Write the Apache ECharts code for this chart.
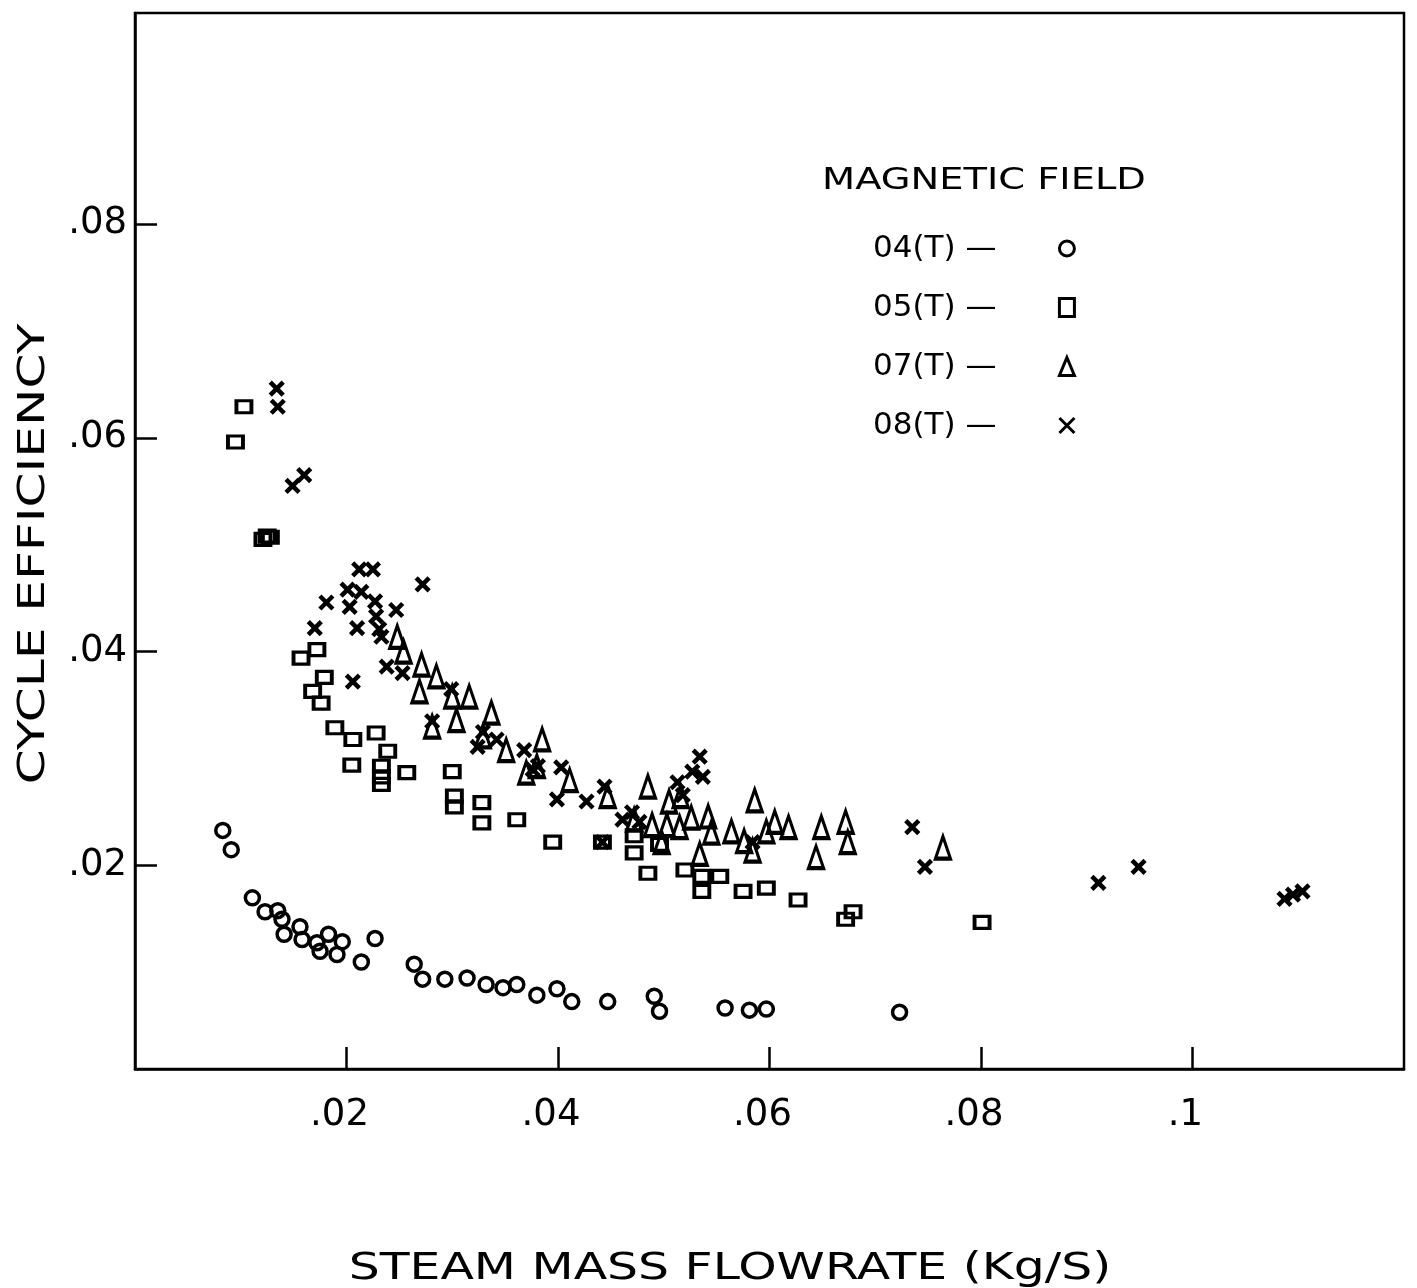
<!DOCTYPE html>
<html><head><meta charset="utf-8">
<script src="https://cdn.jsdelivr.net/npm/echarts@6/dist/echarts.min.js"></script>
<style>html,body{margin:0;padding:0;background:#fff}#c{width:1417px;height:1288px}</style>
</head><body><div id="c"></div>
<script>
const seriesNames = ['04(T)', '05(T)', '07(T)', '08(T)'];
const xTickValues = [0.02, 0.04, 0.06, 0.08, 0.1];
const xTickLabels = ['.02', '.04', '.06', '.08', '.1'];
const yTickValues = [0.02, 0.04, 0.06, 0.08];
const yTickLabels = ['.02', '.04', '.06', '.08'];

// 0.4 T  (circles)
const field04 = [
  [0.0083,0.0233],[0.0091,0.0215],[0.0111,0.0170],[0.0123,0.0157],[0.0135,0.0158],
  [0.0139,0.0150],[0.0141,0.0136],[0.0156,0.0143],[0.0158,0.0131],[0.0172,0.0128],
  [0.0175,0.0120],[0.0183,0.0136],[0.0191,0.0117],[0.0196,0.0129],[0.0214,0.0110],
  [0.0227,0.0132],[0.0264,0.0108],[0.0272,0.0094],[0.0293,0.0094],[0.0314,0.0095],
  [0.0332,0.0089],[0.0348,0.0086],[0.0361,0.0089],[0.0380,0.0079],[0.0399,0.0085],
  [0.0413,0.0073],[0.0447,0.0073],[0.0491,0.0078],[0.0496,0.0064],[0.0558,0.0067],
  [0.0581,0.0065],[0.0597,0.0066],[0.0723,0.0063]
];
// 0.5 T  (squares)
const field05 = [
  [0.0103,0.0629],[0.0095,0.0596],[0.0121,0.0505],[0.0125,0.0508],[0.0128,0.0507],
  [0.0172,0.0402],[0.0157,0.0394],[0.0179,0.0376],[0.0168,0.0363],[0.0176,0.0352],
  [0.0189,0.0329],[0.0206,0.0318],[0.0228,0.0324],[0.0239,0.0307],[0.0205,0.0294],
  [0.0233,0.0293],[0.0233,0.0283],[0.0233,0.0276],[0.0257,0.0287],[0.0300,0.0288],
  [0.0302,0.0265],[0.0302,0.0255],[0.0328,0.0259],[0.0328,0.0240],[0.0361,0.0243],
  [0.0395,0.0222],[0.0442,0.0222],[0.0472,0.0228],[0.0472,0.0212],[0.0485,0.0193],
  [0.0496,0.0220],[0.0520,0.0196],[0.0536,0.0190],[0.0536,0.0176],[0.0553,0.0190],
  [0.0575,0.0176],[0.0597,0.0179],[0.0627,0.0168],[0.0672,0.0150],[0.0679,0.0157],
  [0.0801,0.0147]
];
// 0.7 T  (triangles)
const field07 = [
  [0.0248,0.0414],[0.0254,0.0400],[0.0271,0.0388],[0.0269,0.0363],[0.0285,0.0377],
  [0.0300,0.0358],[0.0316,0.0358],[0.0281,0.0330],[0.0304,0.0336],[0.0337,0.0343],
  [0.0329,0.0321],[0.0351,0.0308],[0.0385,0.0318],[0.0370,0.0287],[0.0380,0.0293],
  [0.0411,0.0280],[0.0447,0.0265],[0.0485,0.0274],[0.0505,0.0260],[0.0516,0.0265],
  [0.0526,0.0245],[0.0542,0.0246],[0.0489,0.0238],[0.0503,0.0238],[0.0515,0.0236],
  [0.0472,0.0243],[0.0498,0.0222],[0.0534,0.0211],[0.0545,0.0231],[0.0564,0.0232],
  [0.0576,0.0223],[0.0584,0.0214],[0.0586,0.0261],[0.0597,0.0232],[0.0605,0.0241],
  [0.0618,0.0236],[0.0649,0.0236],[0.0644,0.0208],[0.0672,0.0241],[0.0674,0.0222],
  [0.0764,0.0217]
];
// 0.8 T  (crosses)
const field08 = [
  [0.0134,0.0646],[0.0135,0.0629],[0.0149,0.0555],[0.0160,0.0565],[0.0212,0.0477],
  [0.0225,0.0477],[0.0272,0.0463],[0.0201,0.0458],[0.0214,0.0456],[0.0181,0.0446],
  [0.0203,0.0442],[0.0227,0.0447],[0.0247,0.0439],[0.0170,0.0422],[0.0210,0.0422],
  [0.0228,0.0433],[0.0231,0.0421],[0.0233,0.0414],[0.0238,0.0386],[0.0206,0.0372],
  [0.0253,0.0380],[0.0281,0.0335],[0.0299,0.0365],[0.0329,0.0325],[0.0324,0.0311],
  [0.0342,0.0318],[0.0368,0.0308],[0.0381,0.0293],[0.0376,0.0290],[0.0403,0.0292],
  [0.0399,0.0262],[0.0427,0.0260],[0.0444,0.0274],[0.0461,0.0243],[0.0470,0.0250],
  [0.0477,0.0241],[0.0442,0.0222],[0.0513,0.0278],[0.0518,0.0266],[0.0527,0.0288],
  [0.0534,0.0302],[0.0537,0.0283],[0.0584,0.0222],[0.0735,0.0236],[0.0747,0.0199],
  [0.0911,0.0184],[0.0949,0.0199],[0.1087,0.0169],[0.1095,0.0173],[0.1104,0.0176]
];

const FONT = '"DejaVu Sans", sans-serif';
const CROSS = 'path://M0,0L10,10M10,0L0,10';
const symbols = ['circle', 'rect', 'triangle', CROSS];
const sizes = [14, [15, 12], [15, 22], 13];
const strokes = [3.5, 3.5, 3.5, 4.5];
const datasets = [field04, field05, field07, field08];

function labeler(values, labels) {
  return function (v) {
    const i = values.findIndex(t => Math.abs(t - v) < 1e-9);
    return i >= 0 ? labels[i] : '';
  };
}

const chart = echarts.init(document.getElementById('c'), null, { renderer: 'canvas' });
chart.setOption({
  animation: false,
  backgroundColor: '#fff',
  grid: { left: 135, right: 13, top: 13, bottom: 219, show: true, borderColor: '#000', borderWidth: 2.5, backgroundColor: 'transparent' },
  xAxis: {
    type: 'value', min: 0, max: 0.12, interval: 0.02,
    axisLine: { lineStyle: { color: '#000', width: 2.5 } },
    axisTick: { inside: true, length: 22, customValues: xTickValues, lineStyle: { color: '#000', width: 2.5 } },
    axisLabel: { customValues: xTickValues, formatter: labeler(xTickValues, xTickLabels), fontSize: 37, fontFamily: FONT, color: '#000', margin: 28, padding: [0, 14, 0, 0] },
    splitLine: { show: false }
  },
  yAxis: {
    type: 'value', min: 0.001, max: 0.0997,
    axisLine: { lineStyle: { color: '#000', width: 2.5 } },
    axisTick: { inside: true, length: 22, customValues: yTickValues, lineStyle: { color: '#000', width: 2.5 } },
    axisLabel: { customValues: yTickValues, formatter: labeler(yTickValues, yTickLabels), fontSize: 37, fontFamily: FONT, color: '#000', margin: 8, padding: [8, 0, 0, 0] },
    splitLine: { show: false }
  },
  legend: {
    orient: 'vertical', left: 868, top: 228, align: 'right',
    itemGap: 28, itemWidth: 15, itemHeight: 18,
    formatter: n => n + ' —',
    itemStyle: { color: 'rgba(255,255,255,0)', borderColor: '#000', borderWidth: 3, opacity: 1 },
    textStyle: { fontSize: 31, fontFamily: FONT, color: '#000', padding: [0, 58, 0, 0] },
    data: seriesNames.map((n, i) => ({ name: n, icon: symbols[i] }))
  },
  graphic: [
    { type: 'text', x: 822, y: 181, scaleX: 1.28, style: { text: 'MAGNETIC FIELD', fontSize: 30, fontFamily: FONT, fill: '#000', align: 'left', verticalAlign: 'middle' } },
    { type: 'text', x: 730, y: 1269, scaleX: 1.32, style: { text: 'STEAM MASS FLOWRATE (Kg/S)', fontSize: 37, fontFamily: FONT, fill: '#000', align: 'center', verticalAlign: 'middle' } },
    { type: 'text', x: 34, y: 554, rotation: Math.PI / 2, scaleX: 1.32, style: { text: 'CYCLE EFFICIENCY', fontSize: 38, fontFamily: FONT, fill: '#000', align: 'center', verticalAlign: 'middle' } }
  ],
  series: seriesNames.map((n, i) => ({
    name: n, type: 'scatter', symbol: symbols[i], symbolSize: sizes[i],
    itemStyle: { color: 'rgba(255,255,255,0)', borderColor: '#000', borderWidth: strokes[i], opacity: 1 },
    emphasis: { disabled: true },
    data: datasets[i]
  }))
});
</script>
</body></html>
